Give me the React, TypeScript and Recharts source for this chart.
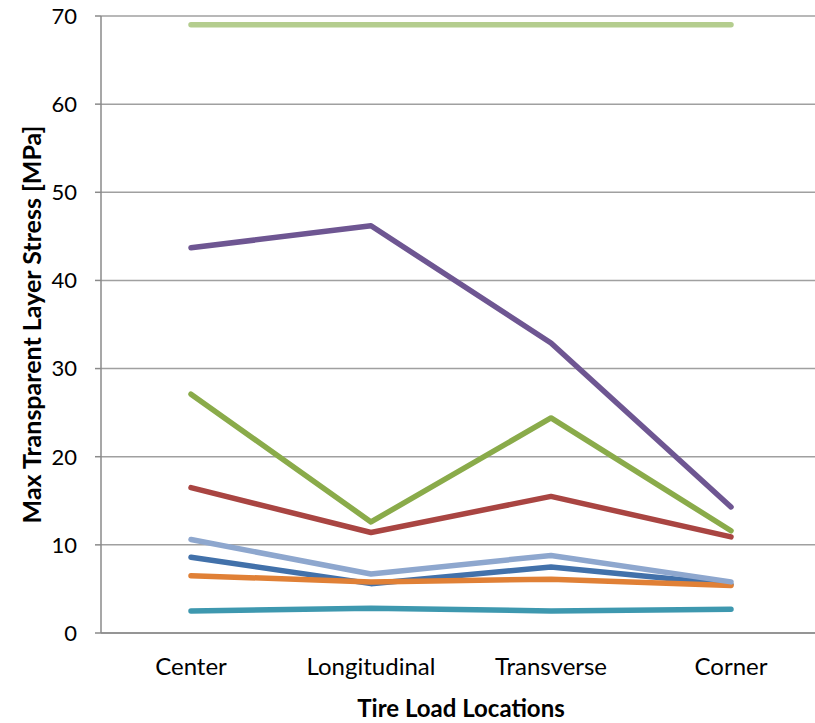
import { LineChart, Line, XAxis, YAxis, CartesianGrid, Label } from 'recharts';

const categories = ['Center', 'Longitudinal', 'Transverse', 'Corner'];
const yTicks = [0, 10, 20, 30, 40, 50, 60, 70];
const boundaryTicks = [0, 1, 2, 3, 4];

const blue = [8.6, 5.6, 7.5, 5.5];
const red = [16.5, 11.4, 15.5, 10.9];
const green = [27.1, 12.6, 24.4, 11.6];
const purple = [43.7, 46.2, 32.9, 14.3];
const teal = [2.5, 2.8, 2.5, 2.7];
const orange = [6.5, 5.8, 6.1, 5.4];
const lightBlue = [10.6, 6.7, 8.8, 5.8];
const lightGreen = [69, 69, 69, 69];

const series = [
  { key: 's1', values: blue, color: '#4271AA' },
  { key: 's2', values: red, color: '#A94542' },
  { key: 's3', values: green, color: '#8AAB4A' },
  { key: 's4', values: purple, color: '#6E5692' },
  { key: 's5', values: teal, color: '#3E98AF' },
  { key: 's6', values: orange, color: '#E08036' },
  { key: 's7', values: lightBlue, color: '#8EA7CE' },
  { key: 's8', values: lightGreen, color: '#B4CD8E' },
];

const data = categories.map((name, i) => {
  const row: Record<string, string | number> = { name };
  series.forEach((s) => {
    row[s.key] = s.values[i];
  });
  return row;
});

const font = 'Lato, "Open Sans", sans-serif';
const axisGray = '#8a8a8a';

export default function App() {
  return (
    <div style={{ position: 'absolute', left: 0, top: 0, width: 815, height: 723, overflow: 'hidden', background: '#fff' }}>
      <LineChart width={821} height={723} data={data} margin={{ top: 16, right: 0, left: 0, bottom: 0 }}>
        <CartesianGrid vertical={false} stroke="#a0a0a0" strokeWidth={1.5} />
        <XAxis
          xAxisId="bounds"
          type="number"
          domain={[0, 4]}
          ticks={boundaryTicks}
          height={0}
          axisLine={false}
          tickSize={8}
          tickFormatter={() => ''}
          tickLine={{ stroke: axisGray, strokeWidth: 1.5 }}
        />
        <XAxis
          dataKey="name"
          height={90}
          padding={{ left: 90, right: 90 }}
          tickLine={false}
          tickSize={0}
          tickMargin={25}
          axisLine={{ stroke: axisGray, strokeWidth: 1.5 }}
          tick={{ fill: '#000', fontSize: 24, fontFamily: font }}
        >
          <Label
            value="Tire Load Locations"
            position="insideBottom"
            offset={6}
            style={{ fill: '#000', fontSize: 24, fontWeight: 700, fontFamily: font }}
          />
        </XAxis>
        <YAxis
          width={101}
          domain={[0, 70]}
          ticks={yTicks}
          tickSize={6}
          tickMargin={18}
          axisLine={{ stroke: axisGray, strokeWidth: 1.5 }}
          tickLine={{ stroke: axisGray, strokeWidth: 1.5 }}
          tick={{ fill: '#000', fontSize: 22, fontFamily: font }}
        >
          <Label
            value="Max Transparent Layer Stress [MPa]"
            angle={-90}
            position="center"
            dx={-18}
            style={{ fill: '#000', fontSize: 25, fontWeight: 700, fontFamily: font, textAnchor: 'middle' }}
          />
        </YAxis>
        {series.map((s) => (
          <Line
            key={s.key}
            dataKey={s.key}
            stroke={s.color}
            strokeWidth={5.5}
            strokeLinecap="round"
            strokeLinejoin="round"
            dot={false}
            activeDot={false}
            isAnimationActive={false}
          />
        ))}
      </LineChart>
    </div>
  );
}
